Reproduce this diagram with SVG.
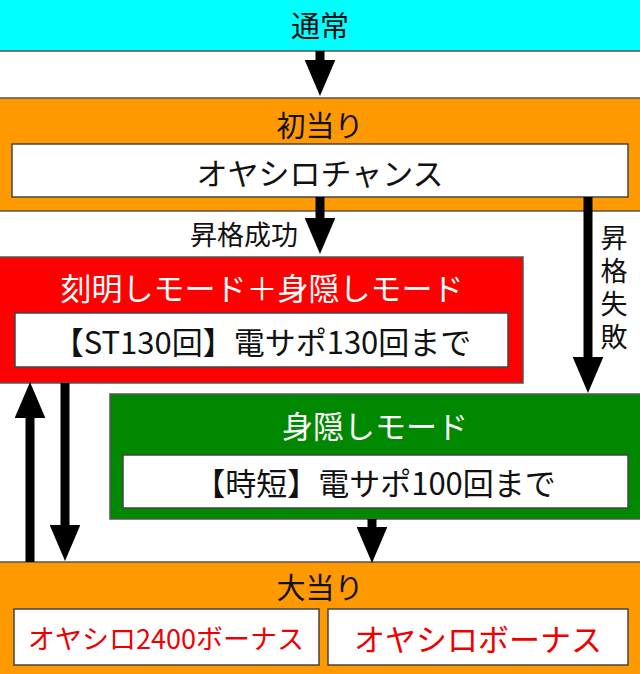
<svg xmlns="http://www.w3.org/2000/svg" width="640" height="674" viewBox="0 0 640 674">
<style>
.b{stroke:#555;stroke-width:1.5}
.w{fill:#fff;stroke:#444;stroke-width:1.5}
text{font-family:"Noto Sans CJK JP","Noto Sans",sans-serif;font-size:31px;text-anchor:middle;dominant-baseline:central}
.k{fill:#111}.wt{fill:#fff}.r{fill:#e00}
.c{stroke:#000;stroke-width:9;fill:none}
</style>
<defs><marker id="a" markerWidth="4" markerHeight="3.4" refX="2" refY="1.7" orient="auto" markerUnits="strokeWidth" viewBox="0 0 4 3.4"><path d="M0,0 L4,1.7 L0,3.4z" fill="#000"/></marker></defs>
<rect width="640" height="674" fill="#fff"/>
<g id="normal"><rect class="b" x="-2" y="-2" width="644" height="53" fill="#00ffff"/><text class="k" x="320" y="24" style="font-size:29px">通常</text></g>
<g id="first"><rect class="b" x="-2" y="98" width="644" height="113" fill="#ff9900"/><text class="k" x="320" y="124" style="font-size:29px">初当り</text><rect class="w" x="12" y="144" width="616" height="53"/><text class="k" x="320" y="171">オヤシロチャンス</text></g>
<g id="st"><rect class="b" x="-2" y="257" width="525" height="126" fill="#ff0000"/><text class="wt" x="262" y="286">刻明しモード＋身隠しモード</text><rect class="w" x="15" y="313" width="493" height="54"/><text class="k" x="262" y="340">【ST130回】電サポ130回まで</text></g>
<g id="jitan"><rect class="b" x="110" y="394" width="532" height="125" fill="#008800"/><text class="wt" x="375" y="424">身隠しモード</text><rect class="w" x="123" y="455" width="505" height="53"/><text class="k" x="375" y="481">【時短】電サポ100回まで</text></g>
<g id="big"><rect class="b" x="-2" y="562" width="644" height="114" fill="#ff9900"/><text class="k" x="320" y="586" style="font-size:29px">大当り</text><rect class="w" x="14" y="609" width="305" height="56"/><text class="r" x="166" y="637" style="font-size:27px">オヤシロ2400ボーナス</text><rect class="w" x="328" y="609" width="300" height="56"/><text class="r" x="478" y="637">オヤシロボーナス</text></g>
<g id="connectors">
<path class="c" d="M320,51 V78" marker-end="url(#a)"/>
<path class="c" d="M320,197 V236" marker-end="url(#a)"/>
<path class="c" d="M588,197 V375" marker-end="url(#a)"/>
<path class="c" d="M65,383 V543" marker-end="url(#a)"/>
<path class="c" d="M30,562 V400" marker-end="url(#a)"/>
<path class="c" d="M372,519 V545" marker-end="url(#a)"/>
<text class="k" x="244" y="233" style="font-size:27px">昇格成功</text>
<text class="k" x="614" y="290" style="font-size:27px;writing-mode:vertical-rl;letter-spacing:6px">昇格失敗</text>
</g>
</svg>
